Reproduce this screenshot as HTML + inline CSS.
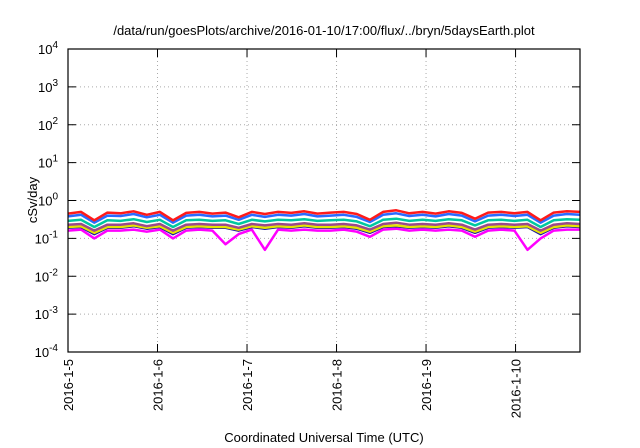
<!DOCTYPE html>
<html><head><meta charset="utf-8"><style>
body{margin:0;background:#fff}
svg{display:block;font-family:"Liberation Sans",sans-serif}
</style></head><body>
<svg id="c" width="640" height="448"></svg>
<script>
const dayLabels=["2016-1-5","2016-1-6","2016-1-7","2016-1-8","2016-1-9","2016-1-10"];
const yExps=[-4,-3,-2,-1,0,1,2,3,4];
const seriesColors=["#ff00ff","#1a1aa0","#e6e600","#9a4a8a","#00c8a0","#2a6aff","#ff1a1a"];
const seriesNames=["magenta","navy","yellow","purple","teal","blue","red"];
const sRed=[0.45,0.5,0.3,0.48,0.46,0.52,0.42,0.5,0.3,0.47,0.5,0.45,0.48,0.36,0.5,0.44,0.5,0.47,0.52,0.45,0.48,0.5,0.44,0.31,0.5,0.55,0.46,0.5,0.45,0.52,0.47,0.33,0.48,0.5,0.46,0.5,0.3,0.48,0.52,0.5];
const sBlue=[0.38,0.42,0.26,0.4,0.39,0.44,0.36,0.42,0.26,0.4,0.42,0.38,0.4,0.31,0.42,0.37,0.42,0.4,0.44,0.38,0.4,0.42,0.37,0.27,0.42,0.46,0.39,0.42,0.38,0.44,0.4,0.28,0.4,0.42,0.39,0.42,0.26,0.4,0.44,0.42];
const sTeal=[0.29,0.31,0.2,0.3,0.29,0.32,0.27,0.31,0.2,0.3,0.31,0.29,0.3,0.24,0.31,0.28,0.31,0.3,0.32,0.29,0.3,0.31,0.28,0.21,0.31,0.33,0.29,0.31,0.29,0.32,0.3,0.22,0.3,0.31,0.29,0.31,0.2,0.3,0.32,0.31];
const sPurple=[0.23,0.24,0.16,0.23,0.23,0.25,0.21,0.24,0.16,0.23,0.24,0.23,0.23,0.19,0.24,0.22,0.24,0.23,0.25,0.23,0.23,0.24,0.22,0.17,0.24,0.26,0.23,0.24,0.23,0.25,0.23,0.17,0.23,0.24,0.23,0.24,0.16,0.23,0.25,0.24];
const sYellow=[0.2,0.21,0.14,0.2,0.2,0.22,0.19,0.21,0.14,0.2,0.21,0.2,0.2,0.17,0.21,0.19,0.21,0.2,0.22,0.2,0.2,0.21,0.19,0.15,0.21,0.22,0.2,0.21,0.2,0.22,0.2,0.15,0.2,0.21,0.2,0.21,0.14,0.2,0.22,0.21];
const sNavy=[0.19,0.2,0.13,0.19,0.19,0.21,0.18,0.2,0.13,0.19,0.2,0.19,0.19,0.16,0.2,0.18,0.2,0.19,0.21,0.19,0.19,0.2,0.18,0.14,0.2,0.21,0.19,0.2,0.19,0.21,0.19,0.14,0.19,0.2,0.19,0.2,0.13,0.19,0.21,0.2];
const sMagenta=[0.16,0.17,0.1,0.16,0.16,0.17,0.15,0.17,0.1,0.16,0.17,0.16,0.07,0.13,0.17,0.05,0.17,0.16,0.17,0.16,0.16,0.17,0.15,0.11,0.17,0.18,0.16,0.17,0.16,0.17,0.16,0.11,0.16,0.17,0.16,0.05,0.1,0.16,0.17,0.17];
const allSeries=[sMagenta,sNavy,sYellow,sPurple,sTeal,sBlue,sRed];
const xDays=5.72;

const NS="http://www.w3.org/2000/svg";
const svg=document.getElementById('c');
const L=68,R=580,T=49,B=352;
const x=d=>L+(d/xDays)*(R-L);
const y=v=>B-(Math.log10(v)+4)/8*(B-T);
function mk(t,a,p){const e=document.createElementNS(NS,t);for(const k in a)e.setAttribute(k,a[k]);(p||svg).appendChild(e);return e;}

const title=mk('text',{x:324,y:35,'text-anchor':'middle','font-size':13});
title.textContent="/data/run/goesPlots/archive/2016-01-10/17:00/flux/../bryn/5daysEarth.plot";



yExps.forEach(e=>{
  const yy=y(Math.pow(10,e));
  if(e>-4&&e<4){const g=mk('line',{x1:L,x2:R,y1:yy,y2:yy,stroke:'#aaa','stroke-dasharray':'1,3'});
  
  }
  mk('line',{x1:L,x2:L+8,y1:yy,y2:yy,stroke:'#000'});
  mk('line',{x1:R,x2:R-8,y1:yy,y2:yy,stroke:'#000'});
  const t=mk('text',{x:L-10,y:yy+5,'text-anchor':'end','font-size':13});
  t.innerHTML='10<tspan dy="-6" font-size="10">'+e+'</tspan>';
  
  
});
dayLabels.forEach((lab,i)=>{
  const xx=x(i);
  if(i>0){const g=mk('line',{x1:xx,x2:xx,y1:T,y2:B,stroke:'#aaa','stroke-dasharray':'1,3'});
  
  }
  mk('line',{x1:xx,x2:xx,y1:B,y2:B-8,stroke:'#000'});
  mk('line',{x1:xx,x2:xx,y1:T,y2:T+8,stroke:'#000'});
  const t=mk('text',{x:0,y:0,'text-anchor':'end','font-size':13,transform:`translate(${xx+5},${B+7}) rotate(-90)`});
  t.textContent=lab;
  
  
});
allSeries.forEach((s,si)=>{
  const pts=s.map((v,i)=>x(i*xDays/(s.length-1)).toFixed(1)+','+y(v).toFixed(1)).join(' ');
  const p=mk('polyline',{points:pts,fill:'none',stroke:seriesColors[si],'stroke-width':2.5,'stroke-linejoin':'round'});
  
  
});
const fr=mk('rect',{x:L,y:T,width:R-L,height:B-T,fill:'none',stroke:'#000','stroke-width':1.2});


const yl=mk('text',{x:0,y:0,'text-anchor':'middle','font-size':13,transform:'translate(37,200) rotate(-90)'});
yl.textContent="cSv/day";


const xl=mk('text',{x:324,y:442,'text-anchor':'middle','font-size':13});
xl.textContent="Coordinated Universal Time (UTC)";


</script>
</body></html>
